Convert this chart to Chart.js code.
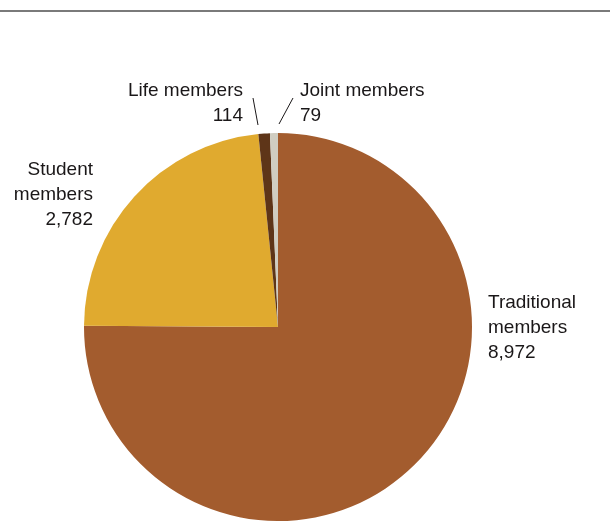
<!DOCTYPE html>
<html>
<head>
<meta charset="utf-8">
<script src="https://cdn.jsdelivr.net/npm/chart.js@4"></script>
<style>
  html, body { margin: 0; padding: 0; background: #fff; }
  #wrap { width: 610px; height: 521px; position: relative; }
</style>
</head>
<body>
<div id="wrap"><canvas id="myChart" width="610" height="521"></canvas></div>
<script>
// data
var categories = ['Traditional members', 'Student members', 'Life members', 'Joint members'];
var members = [8972, 2782, 114, 79];
var sliceColors = ['#A35C2E', '#E0AA2F', '#5E3518', '#D0CDC1'];

// label text lines (name split over lines, then value)
var labelLines = [
  ['Traditional', 'members'],
  ['Student', 'members'],
  ['Life members'],
  ['Joint members'],
];

// label placement relative to pie centre / radius
var labelPlace = [
  { side: 'right', dx: 16, dy: -19, align: 'left' },
  { side: 'left', dx: 9, dy: -152, align: 'right' },
  { side: 'top', dx: -35, dy: -231, align: 'right', lead: [-20, -202, -25, -229] },
  { side: 'top', dx: 22, dy: -231, align: 'left', lead: [1, -203, 15, -229] },
];

function fmt(n) {
  return n.toLocaleString('en-US');
}

var labelPlugin = {
  id: 'pieLabels',
  beforeDraw: function (chart) {
    var c = chart.ctx;
    c.save();
    c.strokeStyle = '#7a7a7a';
    c.lineWidth = 2;
    c.beginPath();
    c.moveTo(0, 11);
    c.lineTo(chart.width, 11);
    c.stroke();
    c.restore();
  },
  afterDraw: function (chart) {
    var c = chart.ctx;
    var arcs = chart.getDatasetMeta(0).data;
    c.save();
    c.font = '19px "Liberation Sans", Arial, sans-serif';
    c.fillStyle = '#1a1718';
    c.strokeStyle = '#1a1718';
    c.lineWidth = 1;
    c.textBaseline = 'alphabetic';
    arcs.forEach(function (arc, i) {
      var p = arc.getProps(['x', 'y', 'outerRadius']);
      var pl = labelPlace[i];
      var x, y;
      if (pl.side === 'right') { x = p.x + p.outerRadius + pl.dx; }
      else if (pl.side === 'left') { x = p.x - p.outerRadius + pl.dx; }
      else { x = p.x + pl.dx; }
      y = p.y + pl.dy;
      var lines = labelLines[i].concat([fmt(members[i])]);
      c.textAlign = pl.align;
      lines.forEach(function (t, k) {
        c.fillText(t, x, y + k * 25);
      });
      if (pl.lead) {
        c.beginPath();
        c.moveTo(p.x + pl.lead[0], p.y + pl.lead[1]);
        c.lineTo(p.x + pl.lead[2], p.y + pl.lead[3]);
        c.stroke();
      }
    });
    c.restore();
  },
};

var ctx = document.getElementById('myChart').getContext('2d');
var myChart = new Chart(ctx, {
  type: 'pie',
  data: {
    labels: categories,
    datasets: [
      {
        data: members,
        backgroundColor: sliceColors,
        borderWidth: 0,
      },
    ],
  },
  options: {
    responsive: false,
    animation: false,
    layout: { padding: { left: 84, right: 138, top: 133, bottom: 0 } },
    plugins: {
      legend: { display: false },
      tooltip: { enabled: false },
    },
  },
  plugins: [labelPlugin],
});
</script>
</body>
</html>
